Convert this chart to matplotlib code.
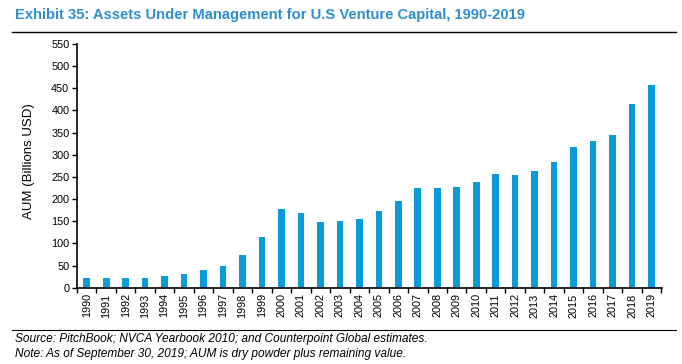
import matplotlib.pyplot as plt
from matplotlib.lines import Line2D

years = [str(y) for y in range(1990, 2020)]
aum = [22.5, 22, 22, 23, 27, 31.5, 39, 50, 73.5, 115.5,
       178.5, 169, 148, 149.5, 155, 173, 196, 225, 225, 226.5,
       238, 255.5, 253.5, 263, 284, 317, 332, 343.5, 415.5, 457]
yticks = list(range(0, 551, 50))

plt.rcParams['font.family'] = ['Liberation Sans', 'DejaVu Sans']

W, H = 682, 364
fig = plt.figure(figsize=(W / 100, H / 100), dpi=100)

# axes placed in pixel coordinates
x0, x1, ytop, ybot = 77, 662, 44, 287.7
ax = fig.add_axes([x0 / W, (H - ybot) / H, (x1 - x0) / W, (ybot - ytop) / H])

xs = list(range(len(years)))
ax.bar(xs, aum, width=0.34, color='#0A9BDC')
ax.set_xlim(-0.46, len(years) - 0.46)
ax.set_ylim(0, 550)
ax.set_yticks(yticks)
ax.set_yticklabels([str(t) for t in yticks], fontsize=7.8)
ax.set_xticks(xs)
ax.set_xticklabels(years, rotation=90, fontsize=7.8)
ax.set_xticks([i + 0.5 for i in range(-1, len(years))], minor=True)
ax.tick_params(axis='x', which='major', length=0, pad=4)
ax.tick_params(axis='x', which='minor', length=3.5, width=1, direction='out')
ax.tick_params(axis='y', length=3.5, width=1, direction='out', pad=2)
for s in ['top', 'right']:
    ax.spines[s].set_visible(False)
for s in ['left', 'bottom']:
    ax.spines[s].set_linewidth(1.2)
ax.set_ylabel('AUM (Billions USD)', fontsize=9.5)
ax.yaxis.set_label_coords(-0.072, 0.52)

fig.text(15 / W, 1 - 15 / H, 'Exhibit 35: Assets Under Management for U.S Venture Capital, 1990-2019',
         fontsize=10.6, fontweight='bold', color='#2F8ED0', va='center', ha='left')
fig.add_artist(Line2D([12 / W, 676 / W], [1 - 32 / H, 1 - 32 / H], color='black', lw=1))
fig.add_artist(Line2D([12 / W, 676 / W], [1 - 330 / H, 1 - 330 / H], color='black', lw=0.8))
fig.text(15 / W, 1 - 339 / H, 'Source: PitchBook; NVCA Yearbook 2010; and Counterpoint Global estimates.',
         fontsize=8.6, style='italic', va='center', ha='left')
fig.text(15 / W, 1 - 354 / H, 'Note: As of September 30, 2019; AUM is dry powder plus remaining value.',
         fontsize=8.6, style='italic', va='center', ha='left')

fig.savefig('out.png', dpi=100)
